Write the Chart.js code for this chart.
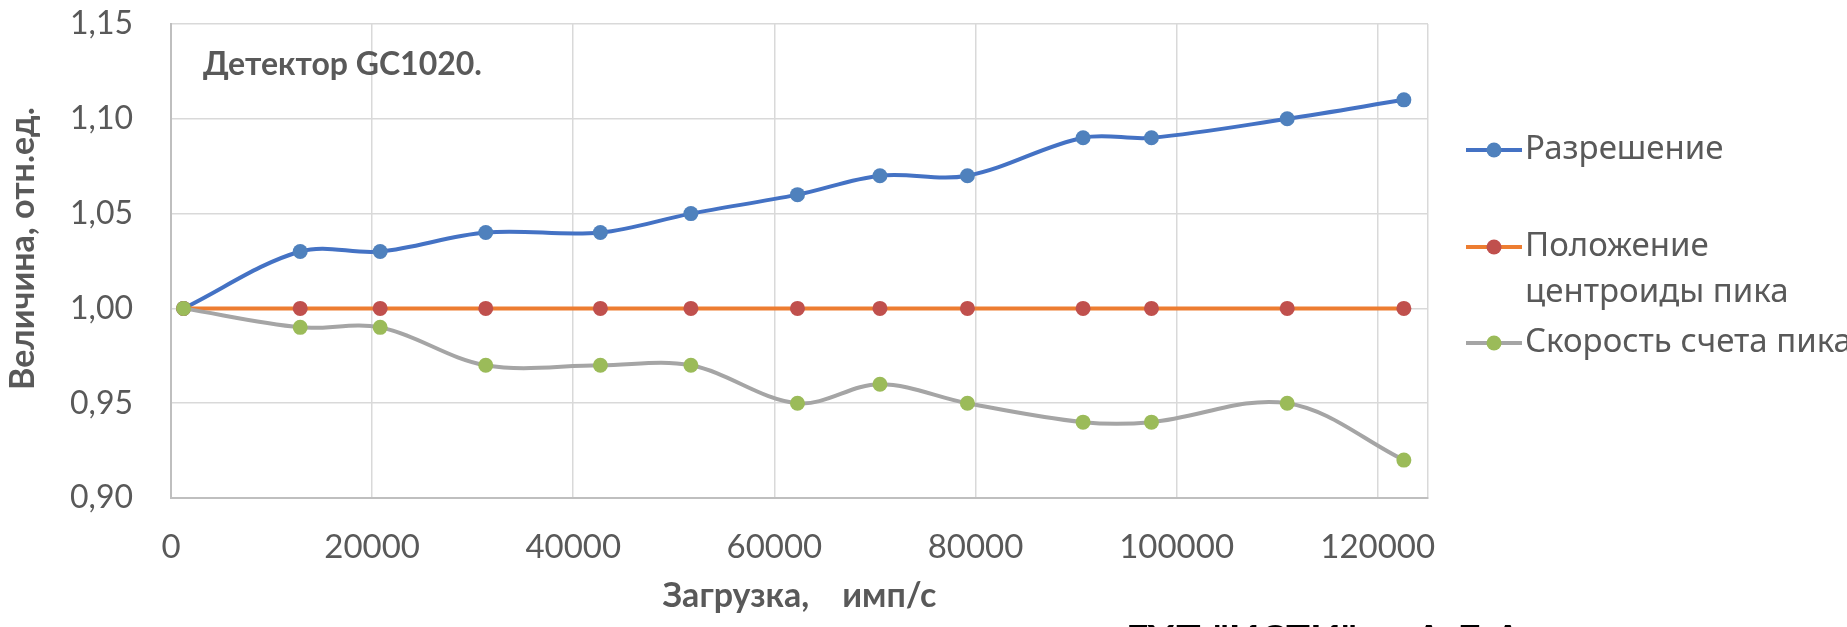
<!DOCTYPE html>
<html lang="ru">
<head>
<meta charset="UTF-8">
<title>Детектор GC1020</title>
<script src="https://cdn.jsdelivr.net/npm/chart.js"></script>
<style>
    html, body { margin: 0; padding: 0; background: #fff; }
    #wrap { width: 1847px; height: 627px; }
</style>
</head>
<body>
<div id="wrap"><canvas id="chart" width="1847" height="627"></canvas></div>
<script>
// загрузка, имп/с
var loadRates = [1250, 12850, 20800, 31300, 42700, 51700, 62300, 70500, 79200, 90700, 97500, 111000, 122600];
var resolution = [1.00, 1.03, 1.03, 1.04, 1.04, 1.05, 1.06, 1.07, 1.07, 1.09, 1.09, 1.10, 1.11];
var centroid = [1.00, 1.00, 1.00, 1.00, 1.00, 1.00, 1.00, 1.00, 1.00, 1.00, 1.00, 1.00, 1.00];
var peakRate = [1.00, 0.99, 0.99, 0.97, 0.97, 0.97, 0.95, 0.96, 0.95, 0.94, 0.94, 0.95, 0.92];

var seriesNames = ['Разрешение', 'Положение центроиды пика', 'Скорость счета пика'];
var legendLines = [['Разрешение'], ['Положение', 'центроиды пика'], ['Скорость счета пика']];
var xTicks = [0, 20000, 40000, 60000, 80000, 100000, 120000];
var xMax = 125000;
var yTicks = [0.90, 0.95, 1.00, 1.05, 1.10, 1.15];

var grey = '#595959';

function pts(ys) {
    return loadRates.map(function(x, i) { return {x: x, y: ys[i]}; });
}

// legend, note and the cut-off caption, drawn straight on the canvas
var extras = {
    id: 'extras',
    afterDraw: function(chart) {
        var c = chart.ctx;
        c.save();
        c.textBaseline = 'middle';
        c.textAlign = 'left';

        c.fillStyle = grey;
        c.font = 'bold 32px Lato';
        c.fillText('Детектор GC1020.', 203, 65);

        var rows = [150, 247, 343];
        chart.data.datasets.forEach(function(ds, i) {
            var y = rows[i];
            c.strokeStyle = ds.borderColor;
            c.lineWidth = 4;
            c.beginPath();
            c.moveTo(1466, y);
            c.lineTo(1522, y);
            c.stroke();
            c.fillStyle = ds.pointBackgroundColor;
            c.beginPath();
            c.arc(1494, y, 7.5, 0, Math.PI * 2);
            c.fill();
            c.fillStyle = grey;
            c.font = '33px "Noto Sans"';
            legendLines[i].forEach(function(t, k) {
                c.fillText(t, 1525, y + k * 46);
            });
        });

        c.fillStyle = '#000';
        c.font = 'bold 40px Lato';
        c.textBaseline = 'alphabetic';
        c.fillText('ГУП "ИСТИ"      А.Д.А', 1126, 654);
        c.restore();
    }
};

var ctx = document.getElementById('chart').getContext('2d');
new Chart(ctx, {
    type: 'line',
    data: {
        datasets: [{
            label: seriesNames[0],
            data: pts(resolution),
            borderColor: '#4472C4',
            pointBackgroundColor: '#4F81BD',
            pointBorderColor: '#4F81BD',
            order: 2
        }, {
            label: seriesNames[1],
            data: pts(centroid),
            borderColor: '#ED7D31',
            pointBackgroundColor: '#C0504D',
            pointBorderColor: '#C0504D',
            order: 1
        }, {
            label: seriesNames[2],
            data: pts(peakRate),
            borderColor: '#A5A5A5',
            pointBackgroundColor: '#9BBB59',
            pointBorderColor: '#9BBB59',
            order: 0
        }]
    },
    options: {
        responsive: false,
        animation: false,
        layout: { padding: { top: 24, right: 419, bottom: 0, left: 0 } },
        elements: {
            line: { tension: 0.35, borderWidth: 4, fill: false },
            point: { radius: 7.5, borderWidth: 0, hoverRadius: 7.5 }
        },
        plugins: {
            legend: { display: false },
            tooltip: { enabled: false }
        },
        scales: {
            x: {
                type: 'linear',
                min: 0,
                max: xMax,
                afterBuildTicks: function(s) {
                    s.ticks = xTicks.concat([xMax]).map(function(v) { return {value: v}; });
                },
                afterFit: function(s) { s.height = 129; },
                grid: { color: '#D9D9D9', lineWidth: 1.5, drawTicks: false },
                border: { color: '#BFBFBF', width: 2 },
                ticks: {
                    padding: 30,
                    color: grey,
                    maxRotation: 0,
                    autoSkip: false,
                    font: { family: 'Lato', size: 33 },
                    callback: function(v) { return xTicks.indexOf(v) >= 0 ? String(v) : ''; }
                },
                title: {
                    display: true,
                    text: 'Загрузка,    имп/с',
                    color: grey,
                    font: { family: 'Lato', size: 34, weight: 'bold' },
                    padding: { top: 0, bottom: 11 }
                }
            },
            y: {
                min: 0.9,
                max: 1.15,
                afterBuildTicks: function(s) {
                    s.ticks = yTicks.map(function(v) { return {value: v}; });
                },
                afterFit: function(s) {
                    s.width = 171;
                    s.paddingTop = 19;
                    s.paddingBottom = 19;
                },
                grid: { color: '#D9D9D9', lineWidth: 1.5, drawTicks: false },
                border: { color: '#BFBFBF', width: 2 },
                ticks: {
                    padding: 38,
                    color: grey,
                    font: { family: 'Lato', size: 32 },
                    callback: function(v) { return v.toFixed(2).replace('.', ','); }
                },
                title: {
                    display: true,
                    text: '   Величина, отн.ед.',
                    color: grey,
                    font: { family: 'Lato', size: 34, weight: 'bold' },
                    padding: { top: 3, bottom: 0 }
                }
            }
        }
    },
    plugins: [extras]
});
</script>
</body>
</html>
